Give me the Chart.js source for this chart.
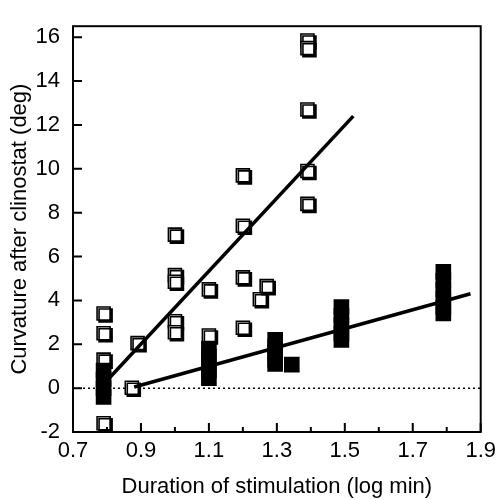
<!DOCTYPE html>
<html><head><meta charset="utf-8">
<script src="https://cdn.jsdelivr.net/npm/chart.js@4.4.1/dist/chart.umd.min.js"></script>
<style>html,body{margin:0;padding:0;background:#fff}#wrap{width:502px;height:500px}</style>
</head><body><div id="wrap"><canvas id="c" width="502" height="500"></canvas></div>
<script>
const xTicks = [0.7, 0.9, 1.1, 1.3, 1.5, 1.7, 1.9];
const xMinorTicks = [0.8, 1.0, 1.2, 1.4, 1.6, 1.8];
const yTicks = [-2, 0, 2, 4, 6, 8, 10, 12, 14, 16];

const openX = [0.79, 0.79, 0.79, 0.79, 0.873, 0.89, 1.0, 1.0, 1.0, 1.0, 1.0, 1.1, 1.1, 1.2, 1.2, 1.2, 1.2, 1.25, 1.27, 1.39, 1.39, 1.39, 1.39, 1.39];
const openY = [3.4, 2.5, 1.3, -1.6, 0.02, 2.05, 7.0, 5.15, 4.85, 3.05, 2.55, 4.5, 2.4, 9.7, 7.4, 5.05, 2.75, 4.05, 4.65, 15.85, 15.5, 12.7, 9.9, 8.4];

const filledX = [0.79, 0.79, 0.79, 0.79, 1.1, 1.1, 1.1, 1.1, 1.1, 1.295, 1.295, 1.295, 1.295, 1.295, 1.344, 1.49, 1.49, 1.49, 1.49, 1.49, 1.79, 1.79, 1.79, 1.79, 1.79, 1.79];
const filledY = [0.8, 0.4, 0.0, -0.4, 1.8, 1.45, 1.1, 0.8, 0.45, 2.2, 1.9, 1.6, 1.3, 1.1, 1.07, 3.7, 3.3, 2.9, 2.5, 2.2, 5.3, 4.9, 4.5, 4.1, 3.7, 3.4];

const openFitX = [0.785, 1.525];
const openFitY = [0.1, 12.4];
const filledFitX = [0.88, 1.87];
const filledFitY = [0.05, 4.3];
const zeroX = [0.7, 1.9];
const zeroY = [0, 0];

const pts = (xs, ys) => xs.map((x, i) => ({x, y: ys[i]}));
const FONT = '"Liberation Sans", Arial, Helvetica, sans-serif';

const framePlugin = {
  id: 'frame',
  afterDatasetsDraw(chart) {
    const {ctx, chartArea: a, scales: {x, y}} = chart;
    ctx.save();
    ctx.strokeStyle = '#000';
    ctx.lineWidth = 2;
    ctx.strokeRect(a.left, a.top, a.right - a.left, a.bottom - a.top);
    ctx.beginPath();
    xTicks.forEach(v => { const p = x.getPixelForValue(v); ctx.moveTo(p, a.bottom); ctx.lineTo(p, a.bottom - 9); });
    xMinorTicks.forEach(v => { const p = x.getPixelForValue(v); ctx.moveTo(p, a.bottom); ctx.lineTo(p, a.bottom - 5); });
    yTicks.forEach(v => { const p = y.getPixelForValue(v); ctx.moveTo(a.left, p); ctx.lineTo(a.left + 9, p); });
    ctx.stroke();
    ctx.restore();
  }
};

const shadowPlugin = {
  id: 'shadow',
  beforeDatasetDraw(chart, args) {
    if (args.index === 3) {
      const ctx = chart.ctx;
      ctx.save();
      ctx.shadowColor = '#000';
      ctx.shadowOffsetX = 2;
      ctx.shadowOffsetY = 2;
      ctx.shadowBlur = 0;
    }
  },
  afterDatasetDraw(chart, args) {
    if (args.index === 3) chart.ctx.restore();
  }
};

new Chart(document.getElementById('c'), {
  type: 'scatter',
  data: {
    datasets: [
      { type: 'line', data: pts(openFitX, openFitY), borderColor: '#000', borderWidth: 3.5, pointRadius: 0, fill: false, order: 0 },
      { type: 'line', data: pts(filledFitX, filledFitY), borderColor: '#000', borderWidth: 3.5, pointRadius: 0, fill: false, order: 0 },
      { data: pts(filledX, filledY), pointStyle: 'rect', pointRadius: 10, backgroundColor: '#000', borderColor: '#000', borderWidth: 1.5, order: 1 },
      { data: pts(openX, openY), pointStyle: 'rect', pointRadius: 9.2, backgroundColor: '#fff', borderColor: '#000', borderWidth: 1.6, order: 2 },
      { type: 'line', data: pts(zeroX, zeroY), borderColor: '#000', borderWidth: 1.5, borderDash: [2, 3], pointRadius: 0, fill: false, order: 3 }
    ]
  },
  options: {
    responsive: false,
    animation: false,
    devicePixelRatio: 1,
    layout: { padding: { top: 10, right: 15, left: 0, bottom: 0 } },
    plugins: { legend: { display: false }, tooltip: { enabled: false } },
    scales: {
      x: {
        type: 'linear', min: 0.7, max: 1.9,
        afterBuildTicks: s => { s.ticks = xTicks.map(v => ({value: v})); },
        afterFit: s => { s.height = 68; },
        grid: { display: false, drawTicks: false },
        border: { display: false },
        ticks: { color: '#000', padding: 6, font: { family: FONT, size: 22 }, callback: v => Number(v).toFixed(1), maxRotation: 0, autoSkip: false },
        title: { display: true, text: 'Duration of stimulation (log min)', color: '#000', font: { family: FONT, size: 22 }, padding: { top: 0, bottom: 0 } }
      },
      y: {
        type: 'linear', min: -2, max: 16.5,
        afterBuildTicks: s => { s.ticks = yTicks.map(v => ({value: v})); },
        afterFit: s => { s.width = 73; },
        grid: { display: false, drawTicks: false },
        border: { display: false },
        ticks: { color: '#000', padding: 13, font: { family: FONT, size: 22 }, autoSkip: false },
        title: { display: true, text: 'Curvature after clinostat (deg)', color: '#000', font: { family: FONT, size: 22 }, padding: { top: 7, bottom: 0 } }
      }
    }
  },
  plugins: [framePlugin, shadowPlugin]
});
</script></body></html>
